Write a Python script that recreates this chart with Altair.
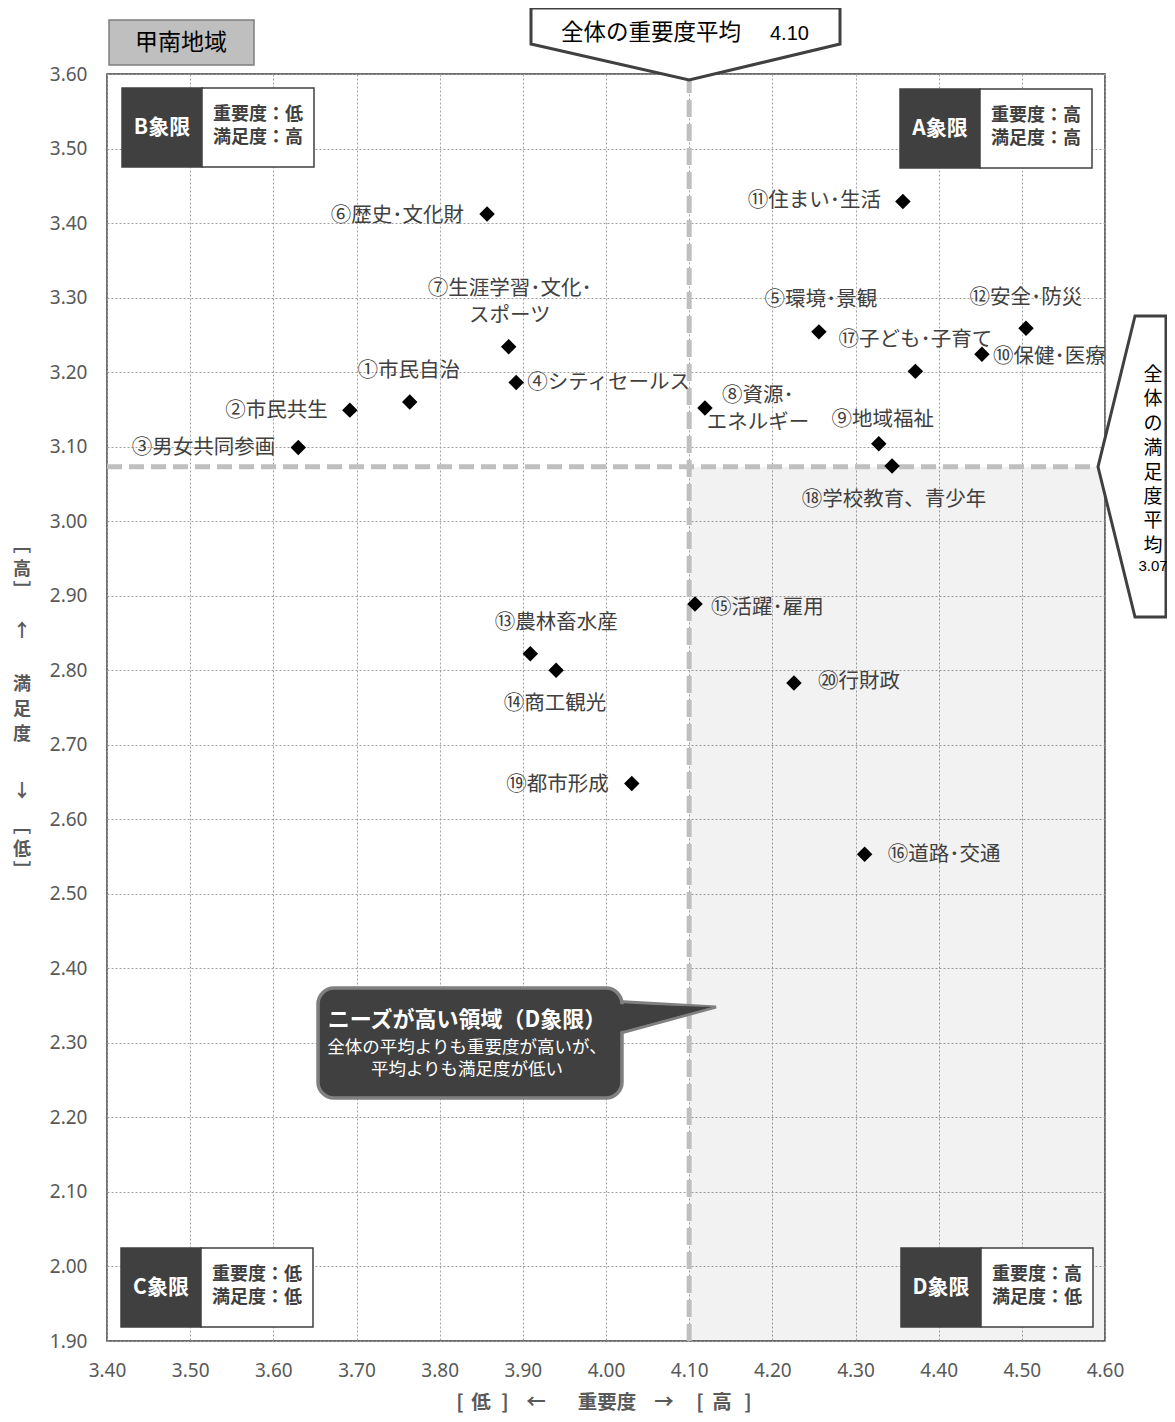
import altair as alt
import pandas as pd

# ---------------- data ----------------
labels = ["①市民自治", "②市民共生", "③男女共同参画", "④シティセールス", "⑤環境･景観",
          "⑥歴史･文化財", "⑦生涯学習･文化･\nスポーツ", "⑧資源･\nエネルギー", "⑨地域福祉", "⑩保健･医療",
          "⑪住まい･生活", "⑫安全･防災", "⑬農林畜水産", "⑭商工観光", "⑮活躍･雇用",
          "⑯道路･交通", "⑰子ども･子育て", "⑱学校教育、青少年", "⑲都市形成", "⑳行財政"]
importance = [3.764, 3.692, 3.630, 3.892, 4.256, 3.857, 3.883, 4.119, 4.328, 4.452,
              4.357, 4.505, 3.909, 3.940, 4.107, 4.311, 4.372, 4.344, 4.031, 4.226]
satisfaction = [3.160, 3.149, 3.099, 3.186, 3.254, 3.412, 3.234, 3.152, 3.104, 3.224,
                3.429, 3.259, 2.822, 2.800, 2.889, 2.553, 3.201, 3.074, 2.648, 2.783]
x_ticks = [3.40, 3.50, 3.60, 3.70, 3.80, 3.90, 4.00, 4.10, 4.20, 4.30, 4.40, 4.50, 4.60]
y_ticks = [1.90, 2.00, 2.10, 2.20, 2.30, 2.40, 2.50, 2.60, 2.70, 2.80, 2.90, 3.00,
           3.10, 3.20, 3.30, 3.40, 3.50, 3.60]
avg_importance = 4.10
avg_importance_label = "4.10"
avg_satisfaction = 3.073
avg_satisfaction_label = "3.07"
region_title = "甲南地域"
x_title_tokens = ["[", "低", "]", "←", "重要度", "→", "[", "高", "]"]
y_title_tokens = ["﹇", "高", "﹈", "↑", "満", "足", "度", "↓", "﹇", "低", "﹈"]

# ---------------- layout ----------------
W, H = 998, 1267
PAD = {"left": 99, "top": 66, "right": 62, "bottom": 77}
X0, X1 = x_ticks[0], x_ticks[-1]
Y0, Y1 = y_ticks[0], y_ticks[-1]
LEFT, TOP = 8 + PAD["left"], 8 + PAD["top"]
FONT = "Noto Sans CJK JP"


def px(u):
    return X0 + (u - LEFT) / W * (X1 - X0)


def py(v):
    return Y1 - (v - TOP) / H * (Y1 - Y0)


def ux(d):
    return d / W * (X1 - X0)


def uy(d):
    return d / H * (Y1 - Y0)


# label placement: (align, dx, dy) in pixels of the first text line relative to the marker
label_layout = [("center", -1, -31), ("right", -22, 1), ("right", -23, 1), ("left", 11, 0),
                ("center", 2, -32), ("right", -23, 2), ("center", 1, -58), ("center", 53, -12),
                ("center", 4, -24), ("left", 11, 3), ("right", -22, 0), ("center", 0, -30),
                ("center", 26, -31), ("center", -1, 34), ("left", 16, 4), ("left", 23, 1),
                ("center", 0, -31), ("center", 2, 34), ("right", -23, 1), ("left", 24, -1)]
x_title_px = [460, 481, 505, 536, 607, 664, 700, 722, 748]
y_title_px = [546, 570, 592, 632, 685, 710, 735, 792, 827, 850, 872]

xs = alt.Scale(domain=[X0, X1], nice=False, zero=False)
ys = alt.Scale(domain=[Y0, Y1], nice=False, zero=False)
AX = alt.Axis(values=x_ticks, format=".2f", title="", labelPadding=20, labelFlush=False)
AY = alt.Axis(values=y_ticks, format=".2f", title="", labelPadding=20, labelFlush=False)


def X(field, **kw):
    return alt.X(field, type="quantitative", scale=xs, axis=AX, **kw)


def Y(field, **kw):
    return alt.Y(field, type="quantitative", scale=ys, axis=AY, **kw)


pts = pd.DataFrame({"x": importance, "y": satisfaction, "label": labels})
pts["align"] = [a for a, _, _ in label_layout]
pts["lx"] = [x + ux(dx) for x, (_, dx, _) in zip(importance, label_layout)]
pts["ly"] = [y - uy(dy) for y, (_, _, dy) in zip(satisfaction, label_layout)]

# shaded D quadrant
shade_df = pd.DataFrame({"x": [avg_importance], "x2": [X1], "y": [Y0], "y2": [avg_satisfaction]})
shade = alt.Chart(shade_df).mark_rect(color="#000000", opacity=0.05).encode(
    x=X("x"), x2="x2:Q", y=Y("y"), y2="y2:Q")

# average lines
vline = alt.Chart(pd.DataFrame({"x": [avg_importance], "y": [Y0], "y2": [Y1]})).mark_rule(
    color="#bfbfbf", strokeWidth=5, strokeDash=[17, 7]).encode(x=X("x"), y=Y("y"), y2="y2:Q")
hline = alt.Chart(pd.DataFrame({"y": [avg_satisfaction], "x": [X0], "x2": [X1]})).mark_rule(
    color="#bfbfbf", strokeWidth=5, strokeDash=[15, 7]).encode(y=Y("y"), x=X("x"), x2="x2:Q")

# quadrant boxes
quads = [("B象限", "重要度：低\n満足度：高", 122, 88), ("A象限", "重要度：高\n満足度：高", 900, 89),
         ("C象限", "重要度：低\n満足度：低", 121, 1248), ("D象限", "重要度：高\n満足度：低", 901, 1248)]
qdark = pd.DataFrame({"x": [px(l) for _, _, l, t in quads], "x2": [px(l + 80) for _, _, l, t in quads],
                      "y": [py(t) for _, _, l, t in quads], "y2": [py(t + 79) for _, _, l, t in quads],
                      "tx": [px(l + 40) for _, _, l, t in quads], "ty": [py(t + 40) for _, _, l, t in quads],
                      "name": [q for q, _, _, _ in quads]})
qlight = pd.DataFrame({"x": [px(l + 80) for _, _, l, t in quads], "x2": [px(l + 192) for _, _, l, t in quads],
                       "y": [py(t) for _, _, l, t in quads], "y2": [py(t + 79) for _, _, l, t in quads],
                       "tx": [px(l + 136) for _, _, l, t in quads], "ty": [py(t + 27) for _, _, l, t in quads],
                       "txt": [d for _, d, _, _ in quads]})
qbox_dark = alt.Chart(qdark).mark_rect(color="#404040", stroke="#404040", strokeWidth=1.5).encode(
    x=X("x"), x2="x2:Q", y=Y("y"), y2="y2:Q")
qbox_light = alt.Chart(qlight).mark_rect(color="#ffffff", stroke="#404040", strokeWidth=1.5).encode(
    x=X("x"), x2="x2:Q", y=Y("y"), y2="y2:Q")
qtext_dark = alt.Chart(qdark).mark_text(font=FONT, fontSize=21, fontWeight="bold", color="#ffffff").encode(
    x=X("tx"), y=Y("ty"), text="name:N")
qtext_light = alt.Chart(qlight).mark_text(font=FONT, fontSize=18, fontWeight="bold", color="#404040",
                                          lineBreak="\n", lineHeight=23).encode(
    x=X("tx"), y=Y("ty"), text="txt:N")

# markers & labels
diamonds = alt.Chart(pts).mark_point(shape="diamond", filled=True, color="#000000", size=240, opacity=1).encode(
    x=X("x"), y=Y("y"))
label_layers = []
for a in ["left", "center", "right"]:
    label_layers.append(
        alt.Chart(pts[pts["align"] == a]).mark_text(font=FONT, fontSize=20.5, color="#404040", align=a,
                                                     baseline="middle", lineBreak="\n", lineHeight=27).encode(
            x=X("lx"), y=Y("ly"), text="label:N"))

# top callout (average importance)
top_df = pd.DataFrame({"x": [px(531), avg_importance, px(840)], "y": [py(8)] * 3,
                       "y2": [py(44), py(80), py(44)]})
top_call = alt.Chart(top_df).mark_area(color="#ffffff", stroke="#404040", strokeWidth=3, opacity=1).encode(
    x=X("x"), y=Y("y"), y2="y2:Q")
top_text = alt.Chart(pd.DataFrame({"x": [px(651)], "y": [py(33)], "t": ["全体の重要度平均"]})
                     ).mark_text(font=FONT, fontSize=22.5, color="#000000").encode(x=X("x"), y=Y("y"), text="t:N")
top_num = alt.Chart(pd.DataFrame({"x": [px(770)], "y": [py(34)], "t": [avg_importance_label]})
                    ).mark_text(font="Liberation Sans", fontSize=20, color="#000000", align="left").encode(
    x=X("x"), y=Y("y"), text="t:N")

# right callout (average satisfaction)
right_df = pd.DataFrame({"y": [py(316), avg_satisfaction, py(617)], "x": [px(1135), px(1098), px(1135)],
                         "x2": [px(1166)] * 3})
right_call = alt.Chart(right_df).mark_area(orient="horizontal", color="#ffffff", stroke="#404040",
                                           strokeWidth=3, opacity=1).encode(
    y=Y("y"), x=X("x"), x2="x2:Q")
right_text = alt.Chart(pd.DataFrame({"x": [px(1153)], "y": [py(375)], "t": ["\n".join("全体の満足度平均")]})
                       ).mark_text(font=FONT, fontSize=19, color="#000000", lineBreak="\n",
                                   lineHeight=24.4, baseline="middle").encode(x=X("x"), y=Y("y"), text="t:N")
right_num = alt.Chart(pd.DataFrame({"x": [px(1153)], "y": [py(566)], "t": [avg_satisfaction_label]})
                      ).mark_text(font="Liberation Sans", fontSize=15, color="#000000", baseline="middle").encode(
    x=X("x"), y=Y("y"), text="t:N")

# needs callout
tri_df = pd.DataFrame({"x": [px(610), px(716)], "y": [py(1001), py(1007)], "y2": [py(1036), py(1007)]})
tri = alt.Chart(tri_df).mark_area(color="#404040", stroke="#808080", strokeWidth=3, opacity=1).encode(
    x=X("x"), y=Y("y"), y2="y2:Q")
tri_fill = alt.Chart(pd.DataFrame({"x": [px(614), px(712)], "y": [py(1004), py(1007)], "y2": [py(1033), py(1007)]})
                     ).mark_area(color="#404040", opacity=1).encode(x=X("x"), y=Y("y"), y2="y2:Q")
box = alt.Chart(pd.DataFrame({"x": [px(318)], "x2": [px(622)], "y": [py(988)], "y2": [py(1098)]})).mark_rect(
    color="#404040", stroke="#808080", strokeWidth=3.5, cornerRadius=16).encode(
    x=X("x"), x2="x2:Q", y=Y("y"), y2="y2:Q")
box_t1 = alt.Chart(pd.DataFrame({"x": [px(467)], "y": [py(1020)], "t": ["ニーズが高い領域（D象限）"]})).mark_text(
    font=FONT, fontSize=22, fontWeight="bold", color="#ffffff").encode(x=X("x"), y=Y("y"), text="t:N")
box_t2 = alt.Chart(pd.DataFrame({"x": [px(467)], "y": [py(1048)],
                                 "t": ["全体の平均よりも重要度が高いが、\n平均よりも満足度が低い"]})).mark_text(
    font=FONT, fontSize=17.5, color="#ffffff", lineBreak="\n", lineHeight=22, baseline="middle").encode(
    x=X("x"), y=Y("y"), text="t:N")

# region title
title_box = alt.Chart(pd.DataFrame({"x": [px(109)], "x2": [px(254)], "y": [py(20)], "y2": [py(65)]})).mark_rect(
    color="#bfbfbf", stroke="#7f7f7f", strokeWidth=1.5).encode(x=X("x"), x2="x2:Q", y=Y("y"), y2="y2:Q")
title_text = alt.Chart(pd.DataFrame({"x": [px(181)], "y": [py(43)], "t": [region_title]})).mark_text(
    font=FONT, fontSize=23, color="#000000").encode(x=X("x"), y=Y("y"), text="t:N")

# axis titles (token by token)
xtitle = alt.Chart(pd.DataFrame({"x": [px(v) for v in x_title_px], "y": [py(1403)] * len(x_title_tokens),
                                 "t": x_title_tokens})).mark_text(
    font=FONT, fontSize=19.5, fontWeight="bold", color="#595959", baseline="middle").encode(
    x=X("x"), y=Y("y"), text="t:N")
ytitle = alt.Chart(pd.DataFrame({"x": [px(22)] * len(y_title_tokens), "y": [py(v) for v in y_title_px],
                                 "t": y_title_tokens})).mark_text(
    font=FONT, fontSize=18, fontWeight="bold", color="#595959", baseline="middle").encode(
    x=X("x"), y=Y("y"), text="t:N")

chart = alt.layer(
    shade, vline, hline, qbox_dark, qbox_light, qtext_dark, qtext_light, diamonds, *label_layers,
    tri, box, tri_fill, box_t1, box_t2, top_call, top_text, top_num, right_call, right_text, right_num,
    title_box, title_text, xtitle, ytitle,
).properties(
    width=W, height=H, padding=PAD, autosize="none",
).configure_view(
    stroke="#404040", strokeWidth=1.5,
).configure_axis(
    grid=True, gridDash=[2, 2], gridColor="#a0a0a0", gridWidth=1, domain=False, ticks=False,
    labelFont="Noto Sans", labelFontSize=19, labelColor="#595959",
)

chart.save("out.html", embed_options={"renderer": "svg", "actions": False})
